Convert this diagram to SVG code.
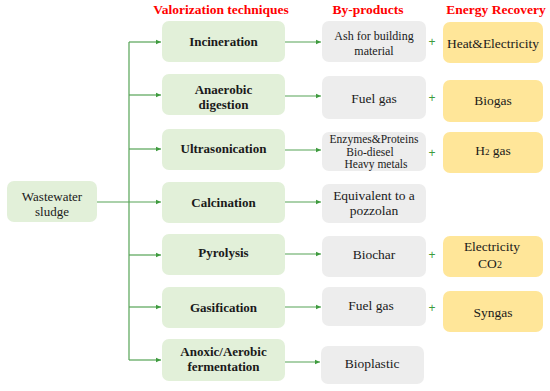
<svg xmlns="http://www.w3.org/2000/svg" width="550" height="391" viewBox="0 0 550 391">
<style>
text{font-family:'Liberation Serif','Times New Roman','DejaVu Serif',serif}
.hdr{font-weight:bold;font-size:13.5px;fill:#ff0000;text-anchor:middle}
.tech rect{fill:#e2f0d9}
.tech text{font-weight:bold;font-size:13px;fill:#1a1a1a;text-anchor:middle}
.src rect{fill:#e2f0d9}
.src text{font-size:13px;fill:#1a1a1a;text-anchor:middle}
.bp rect{fill:#ededed}
.bp text{font-size:13.5px;fill:#1a1a1a;text-anchor:middle}
.bp text.s{font-size:12px}
.bp text.xs{font-size:11.5px}
.en rect{fill:#ffe699}
.en text{font-size:13.5px;fill:#1a1a1a;text-anchor:middle}
text.plus{font-family:'Liberation Sans',Arial,sans-serif;font-size:12px;fill:#3e9b3e;text-anchor:middle}
.conn line{stroke:#56a356;stroke-width:1.2;fill:none}
</style>
<defs>
<marker id="ah" markerWidth="6" markerHeight="6" refX="5" refY="3" orient="auto" markerUnits="userSpaceOnUse">
<path d="M0,0.8 L5,3 L0,5.2 Z" fill="#3e9b3e"/>
</marker>
</defs>
<text class="hdr" x="221" y="14">Valorization techniques</text>
<text class="hdr" x="368" y="14">By-products</text>
<text class="hdr" x="496" y="14">Energy Recovery</text>

<g id="sludge" class="src"><rect x="7" y="181" width="90" height="41" rx="7"/><text x="52" y="201">Wastewater</text><text x="52" y="216">sludge</text></g>

<g id="incineration" class="tech"><rect x="162" y="21" width="123" height="41" rx="7"/><text x="223.5" y="46">Incineration</text></g>
<g id="anaerobic" class="tech"><rect x="162" y="74" width="123" height="41" rx="7"/><text x="223.5" y="94">Anaerobic</text><text x="223.5" y="109">digestion</text></g>
<g id="ultrasonication" class="tech"><rect x="162" y="129" width="123" height="41" rx="7"/><text x="223.5" y="153">Ultrasonication</text></g>
<g id="calcination" class="tech"><rect x="162" y="182" width="123" height="41" rx="7"/><text x="223.5" y="207">Calcination</text></g>
<g id="pyrolysis" class="tech"><rect x="162" y="234" width="123" height="41" rx="7"/><text x="223.5" y="257">Pyrolysis</text></g>
<g id="gasification" class="tech"><rect x="162" y="287" width="123" height="41" rx="7"/><text x="223.5" y="312">Gasification</text></g>
<g id="fermentation" class="tech"><rect x="162" y="339" width="123" height="42" rx="7"/><text x="223.5" y="356">Anoxic/Aerobic</text><text x="223.5" y="371">fermentation</text></g>

<g id="bp-ash" class="bp"><rect x="322" y="21" width="104" height="41" rx="7"/><text class="s" x="374" y="40">Ash for building</text><text class="s" x="374" y="55">material</text></g>
<g id="bp-fuel1" class="bp"><rect x="322" y="76" width="104" height="43" rx="7"/><text x="374" y="103">Fuel gas</text></g>
<g id="bp-enzymes" class="bp"><rect x="322" y="132" width="104" height="39" rx="7"/><text class="xs" x="374" y="143">Enzymes&amp;Proteins</text><text class="xs" x="370" y="156">Bio-diesel</text><text class="xs" x="376" y="168">Heavy metals</text></g>
<g id="bp-pozzolan" class="bp"><rect x="322" y="184" width="104" height="39" rx="7"/><text x="374" y="200">Equivalent to a</text><text x="374" y="215">pozzolan</text></g>
<g id="bp-biochar" class="bp"><rect x="322" y="236" width="104" height="41" rx="7"/><text x="374" y="259">Biochar</text></g>
<g id="bp-fuel2" class="bp"><rect x="322" y="287" width="104" height="39" rx="7"/><text x="371" y="310">Fuel gas</text></g>
<g id="bp-bioplastic" class="bp"><rect x="321" y="346" width="103" height="38" rx="7"/><text x="372" y="368">Bioplastic</text></g>

<g id="en-heat" class="en"><rect x="443" y="22" width="100" height="41" rx="7"/><text x="493" y="48">Heat&amp;Electricity</text></g>
<g id="en-biogas" class="en"><rect x="443" y="80" width="100" height="42" rx="7"/><text x="493" y="105">Biogas</text></g>
<g id="en-h2" class="en"><rect x="443" y="132" width="100" height="41" rx="7"/><text x="493" y="155">H<tspan font-size="9px">2</tspan> gas</text></g>
<g id="en-elec" class="en"><rect x="443" y="236" width="100" height="41" rx="7"/><text x="492" y="251">Electricity</text><text x="490" y="268">CO<tspan font-size="10px">2</tspan></text></g>
<g id="en-syngas" class="en"><rect x="443" y="291" width="100" height="41" rx="7"/><text x="493" y="317">Syngas</text></g>

<g id="plus-signs">
<text class="plus" x="432" y="46">+</text>
<text class="plus" x="432" y="102">+</text>
<text class="plus" x="432" y="157">+</text>
<text class="plus" x="432" y="259">+</text>
<text class="plus" x="432" y="312">+</text>
</g>

<g id="connectors" class="conn">
<line x1="129" y1="42" x2="129" y2="360"/>
<line x1="97" y1="202" x2="161" y2="202" marker-end="url(#ah)"/>
<line x1="129" y1="42" x2="161" y2="42" marker-end="url(#ah)"/>
<line x1="129" y1="95" x2="161" y2="95" marker-end="url(#ah)"/>
<line x1="129" y1="149" x2="161" y2="149" marker-end="url(#ah)"/>
<line x1="129" y1="255" x2="161" y2="255" marker-end="url(#ah)"/>
<line x1="129" y1="307" x2="161" y2="307" marker-end="url(#ah)"/>
<line x1="129" y1="360" x2="161" y2="360" marker-end="url(#ah)"/>
<line x1="285" y1="42" x2="321" y2="42" marker-end="url(#ah)"/>
<line x1="285" y1="96" x2="321" y2="96" marker-end="url(#ah)"/>
<line x1="285" y1="150" x2="321" y2="150" marker-end="url(#ah)"/>
<line x1="285" y1="202" x2="321" y2="202" marker-end="url(#ah)"/>
<line x1="285" y1="254" x2="321" y2="254" marker-end="url(#ah)"/>
<line x1="285" y1="307" x2="321" y2="307" marker-end="url(#ah)"/>
<line x1="285" y1="362" x2="320" y2="362" marker-end="url(#ah)"/>
</g>
</svg>
